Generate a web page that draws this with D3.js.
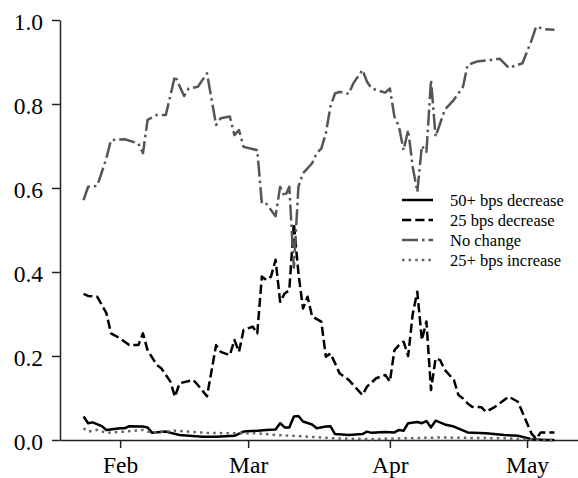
<!DOCTYPE html>
<html>
<head>
<meta charset="utf-8">
<script src="https://cdn.jsdelivr.net/npm/d3@7"></script>
<style>
  body { margin: 0; background: #fff; }
  text { font-family: "Liberation Serif", "Times New Roman", serif; }
</style>
</head>
<body>
<svg id="chart" width="578" height="478"></svg>
<script>
// 50+ bps decrease
const bigCutDates = ["2023-01-24","2023-01-25","2023-01-26","2023-01-28","2023-01-29","2023-02-01","2023-02-02","2023-02-03","2023-02-06","2023-02-07","2023-02-08","2023-02-11","2023-02-14","2023-02-19","2023-02-22","2023-02-26","2023-02-28","2023-03-03","2023-03-05","2023-03-07","2023-03-08","2023-03-09","2023-03-10","2023-03-11","2023-03-12","2023-03-13","2023-03-15","2023-03-16","2023-03-18","2023-03-19","2023-03-20","2023-03-23","2023-03-26","2023-03-27","2023-03-28","2023-03-31","2023-04-02","2023-04-03","2023-04-04","2023-04-05","2023-04-07","2023-04-08","2023-04-09","2023-04-10","2023-04-11","2023-04-13","2023-04-15","2023-04-18","2023-04-22","2023-04-26","2023-04-29","2023-05-02","2023-05-05","2023-05-07"];
const bigCutValues = [0.056,0.040,0.042,0.033,0.024,0.028,0.028,0.033,0.032,0.030,0.017,0.020,0.012,0.008,0.008,0.010,0.020,0.022,0.024,0.025,0.040,0.030,0.030,0.056,0.057,0.044,0.037,0.028,0.032,0.033,0.014,0.012,0.014,0.020,0.017,0.019,0.018,0.024,0.022,0.040,0.043,0.040,0.045,0.030,0.046,0.037,0.032,0.018,0.016,0.012,0.010,0.002,0.000,0.000];

// 25 bps decrease
const cutDates = ["2023-01-24","2023-01-25","2023-01-27","2023-01-29","2023-01-30","2023-02-01","2023-02-03","2023-02-05","2023-02-06","2023-02-07","2023-02-09","2023-02-10","2023-02-12","2023-02-13","2023-02-14","2023-02-17","2023-02-18","2023-02-20","2023-02-22","2023-02-23","2023-02-25","2023-02-26","2023-02-27","2023-02-28","2023-03-02","2023-03-03","2023-03-04","2023-03-05","2023-03-06","2023-03-07","2023-03-08","2023-03-09","2023-03-10","2023-03-11","2023-03-12","2023-03-13","2023-03-14","2023-03-15","2023-03-17","2023-03-18","2023-03-19","2023-03-20","2023-03-21","2023-03-23","2023-03-26","2023-03-27","2023-03-29","2023-03-31","2023-04-01","2023-04-02","2023-04-03","2023-04-04","2023-04-05","2023-04-06","2023-04-07","2023-04-08","2023-04-09","2023-04-10","2023-04-11","2023-04-12","2023-04-13","2023-04-15","2023-04-16","2023-04-17","2023-04-18","2023-04-19","2023-04-21","2023-04-22","2023-04-24","2023-04-25","2023-04-27","2023-04-29","2023-05-02","2023-05-03","2023-05-04","2023-05-07"];
const cutValues = [0.348,0.343,0.341,0.302,0.254,0.242,0.226,0.226,0.254,0.214,0.179,0.171,0.139,0.103,0.135,0.143,0.131,0.104,0.226,0.210,0.202,0.238,0.210,0.262,0.270,0.254,0.389,0.381,0.389,0.429,0.329,0.349,0.357,0.516,0.397,0.313,0.341,0.294,0.282,0.198,0.206,0.183,0.159,0.143,0.107,0.127,0.147,0.155,0.139,0.214,0.226,0.234,0.200,0.300,0.353,0.238,0.282,0.119,0.194,0.190,0.167,0.143,0.107,0.099,0.087,0.079,0.078,0.067,0.079,0.087,0.103,0.091,0.015,0.003,0.018,0.018];

// no change
const holdDates = ["2023-01-24","2023-01-25","2023-01-27","2023-01-29","2023-01-30","2023-02-02","2023-02-05","2023-02-06","2023-02-07","2023-02-09","2023-02-11","2023-02-13","2023-02-15","2023-02-16","2023-02-18","2023-02-20","2023-02-22","2023-02-23","2023-02-25","2023-02-26","2023-02-27","2023-02-28","2023-03-03","2023-03-04","2023-03-05","2023-03-07","2023-03-08","2023-03-09","2023-03-10","2023-03-11","2023-03-12","2023-03-13","2023-03-15","2023-03-16","2023-03-17","2023-03-18","2023-03-19","2023-03-20","2023-03-21","2023-03-23","2023-03-24","2023-03-26","2023-03-27","2023-03-28","2023-03-31","2023-04-01","2023-04-02","2023-04-03","2023-04-04","2023-04-05","2023-04-06","2023-04-07","2023-04-08","2023-04-09","2023-04-10","2023-04-11","2023-04-12","2023-04-13","2023-04-15","2023-04-17","2023-04-18","2023-04-20","2023-04-23","2023-04-25","2023-04-27","2023-04-30","2023-05-02","2023-05-03","2023-05-05","2023-05-07"];
const holdValues = [0.571,0.603,0.605,0.671,0.714,0.716,0.706,0.683,0.762,0.774,0.774,0.867,0.819,0.837,0.841,0.873,0.750,0.766,0.770,0.726,0.738,0.698,0.690,0.563,0.562,0.533,0.603,0.579,0.603,0.410,0.603,0.635,0.659,0.683,0.694,0.730,0.794,0.825,0.829,0.824,0.849,0.881,0.853,0.837,0.827,0.837,0.770,0.746,0.690,0.738,0.650,0.591,0.700,0.686,0.857,0.722,0.754,0.786,0.810,0.841,0.893,0.901,0.905,0.908,0.886,0.897,0.952,0.984,0.978,0.977];

// 25+ bps increase
const hikeDates = ["2023-01-24","2023-01-25","2023-01-27","2023-01-29","2023-02-02","2023-02-06","2023-02-07","2023-02-08","2023-02-13","2023-02-20","2023-02-25","2023-03-03","2023-03-07","2023-03-14","2023-03-20","2023-03-28","2023-04-12","2023-04-26","2023-05-05","2023-05-07"];
const hikeValues = [0.028,0.020,0.024,0.017,0.020,0.024,0.020,0.018,0.022,0.017,0.016,0.016,0.012,0.008,0.004,0.002,0.006,0.004,0.000,0.000];

const yTicks = [0, 0.2, 0.4, 0.6, 0.8, 1.0];

const parseDate = d3.timeParse("%Y-%m-%d");
const zip = (dates, values) => dates.map((d, i) => ({ date: parseDate(d), value: values[i] }));

const series = [
    { name: "50+ bps decrease", data: zip(bigCutDates, bigCutValues), color: "#000000", dash: null },
    { name: "25 bps decrease", data: zip(cutDates, cutValues), color: "#000000", dash: "9.25,4" },
    { name: "No change", data: zip(holdDates, holdValues), color: "#555555", dash: "16,4,2.5,4" },
    { name: "25+ bps increase", data: zip(hikeDates, hikeValues), color: "#666666", dash: "2.5,4.1" }
];

const svg = d3.select("#chart");
const plotLeft = 60, plotRight = 578, plotTop = 20, plotBottom = 440;

// matplotlib-like 5% padding on the dates
const allDates = series.flatMap(s => s.data.map(d => d.date));
const [d0, d1] = d3.extent(allDates);
const pad = (d1 - d0) * 0.05;

const xScale = d3.scaleTime()
    .domain([new Date(+d0 - pad), new Date(+d1 + pad)])
    .range([plotLeft, plotRight]);

const yScale = d3.scaleLinear()
    .domain([0, 1])
    .range([plotBottom, plotTop]);

const xAxis = svg.append("g")
    .attr("transform", `translate(0,${plotBottom})`)
    .call(d3.axisBottom(xScale)
        .ticks(d3.timeMonth.every(1))
        .tickFormat(d3.timeFormat("%b"))
        .tickSize(8)
        .tickSizeOuter(0)
        .tickPadding(8));

const yAxis = svg.append("g")
    .attr("transform", `translate(${plotLeft},0)`)
    .call(d3.axisLeft(yScale)
        .tickValues(yTicks)
        .tickFormat(d3.format(".1f"))
        .tickSize(8)
        .tickSizeOuter(0)
        .tickPadding(9));

[xAxis, yAxis].forEach(g => {
    g.select(".domain").attr("stroke", "#222").attr("stroke-width", 1.5);
    g.selectAll(".tick line").attr("stroke", "#222").attr("stroke-width", 1.5);
    g.selectAll(".tick text")
        .attr("fill", "#000")
        .style("font-family", '"Liberation Serif", serif')
        .style("font-size", "23.5px");
});
yAxis.selectAll(".tick text").attr("dy", "0.42em");

const line = d3.line()
    .x(d => xScale(d.date))
    .y(d => yScale(d.value));

svg.append("g")
    .selectAll("path")
    .data(series)
    .join("path")
    .attr("d", d => line(d.data))
    .attr("fill", "none")
    .attr("stroke", d => d.color)
    .attr("stroke-width", 2.5)
    .attr("stroke-dasharray", d => d.dash)
    .attr("stroke-linejoin", "round");

// legend
const legend = svg.append("g").attr("transform", "translate(402,200)");
const rows = legend.selectAll("g")
    .data(series)
    .join("g")
    .attr("transform", (d, i) => `translate(0,${i * 20})`);

rows.append("line")
    .attr("x1", 0).attr("x2", 31)
    .attr("stroke", d => d.color)
    .attr("stroke-width", 2.5)
    .attr("stroke-dasharray", d => d.dash);

rows.append("text")
    .attr("x", 48)
    .attr("dy", "0.35em")
    .style("font-size", "16.5px")
    .text(d => d.name);
</script>
</body>
</html>
